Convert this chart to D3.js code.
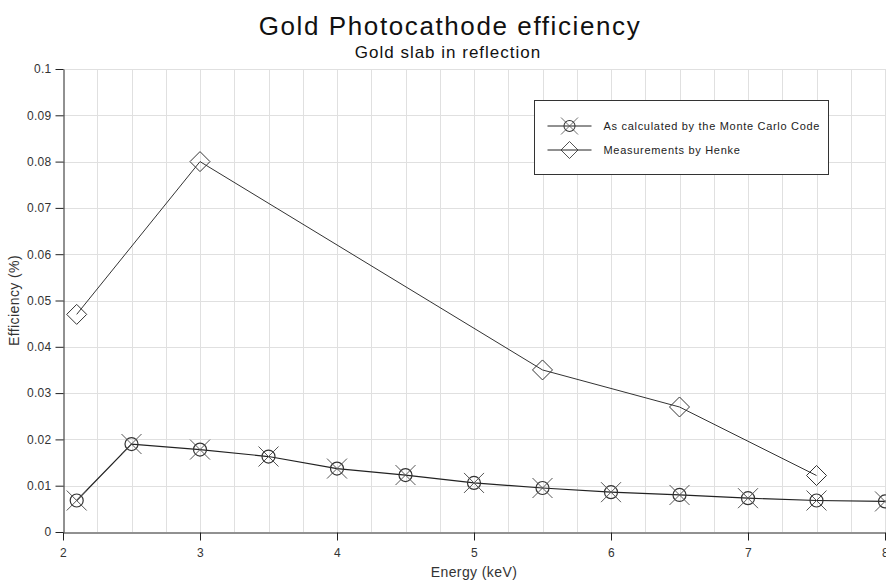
<!DOCTYPE html>
<html>
<head>
<meta charset="utf-8">
<script src="https://cdn.jsdelivr.net/npm/d3@7"></script>
<style>
  body { margin: 0; background: #fff; }
  svg text { font-family: "Liberation Sans", Arial, sans-serif; }
</style>
</head>
<body>
<svg id="chart"></svg>
<script>
// energies (keV) and efficiencies (%)
const mcEnergy = [2.1, 2.5, 3, 3.5, 4, 4.5, 5, 5.5, 6, 6.5, 7, 7.5, 8];
const mcEff = [0.0068, 0.019, 0.0178, 0.0163, 0.0137, 0.0123, 0.0106, 0.0095, 0.0086, 0.008, 0.0073, 0.0068, 0.0066];
const henkeEnergy = [2.1, 3, 5.5, 6.5, 7.5];
const henkeEff = [0.047, 0.08, 0.035, 0.027, 0.0122];
const xTicks = [2, 3, 4, 5, 6, 7, 8];
const yTicks = [0, 0.01, 0.02, 0.03, 0.04, 0.05, 0.06, 0.07, 0.08, 0.09, 0.1];
const seriesNames = ["As calculated by the Monte Carlo Code", "Measurements by Henke"];

const width = 886, height = 581;
const margin = { top: 69, right: 1, bottom: 49, left: 63 };

const svg = d3.select("#chart")
  .attr("width", width)
  .attr("height", height);

const x = d3.scaleLinear()
  .domain([2, 8])
  .range([margin.left, width - margin.right]);

const y = d3.scaleLinear()
  .domain([0, 0.1])
  .range([height - margin.bottom, margin.top]);

// grid
const grid = svg.append("g").attr("stroke", "#e0e0e0").attr("stroke-width", 1);
grid.selectAll("line.v")
  .data(d3.range(2.25, 8.01, 0.25))
  .join("line")
    .attr("class", "v")
    .attr("x1", d => Math.round(x(d)) + 0.5)
    .attr("x2", d => Math.round(x(d)) + 0.5)
    .attr("y1", y(0))
    .attr("y2", y(0.1));
grid.selectAll("line.h")
  .data(yTicks.slice(1))
  .join("line")
    .attr("class", "h")
    .attr("x1", x(2))
    .attr("x2", width)
    .attr("y1", d => Math.round(y(d)) + 0.5)
    .attr("y2", d => Math.round(y(d)) + 0.5);

// axes
const xAxis = svg.append("g")
  .attr("transform", `translate(0,${Math.round(y(0)) + 0.5})`)
  .call(d3.axisBottom(x).tickValues(xTicks).tickFormat(d3.format("d")).tickSize(8).tickSizeOuter(0));
const yAxis = svg.append("g")
  .attr("transform", `translate(${Math.round(x(2)) + 0.5},0)`)
  .call(d3.axisLeft(y).tickValues(yTicks).tickFormat(d => d === 0 ? "0" : d3.format(".2~f")(d)).tickSize(8).tickSizeOuter(0));

[xAxis, yAxis].forEach(g => {
  g.select(".domain").attr("stroke", "#222");
  g.selectAll(".tick line").attr("stroke", "#222");
  g.selectAll(".tick text")
    .attr("fill", "#333")
    .attr("font-size", 12)
    .attr("letter-spacing", 0.3)
    .attr("font-family", "Liberation Sans, Arial, sans-serif");
});
xAxis.selectAll(".tick text").attr("dy", "1.1em");
yAxis.selectAll(".tick text").attr("dx", "-1px");

// lines
const line = d3.line().x(d => x(d[0])).y(d => y(d[1]));
const mcData = mcEnergy.map((e, i) => [e, mcEff[i]]);
const henkeData = henkeEnergy.map((e, i) => [e, henkeEff[i]]);

svg.append("path")
  .datum(henkeData)
  .attr("d", line)
  .attr("fill", "none")
  .attr("stroke", "#333")
  .attr("stroke-width", 1);

svg.append("path")
  .datum(mcData)
  .attr("d", line)
  .attr("fill", "none")
  .attr("stroke", "#222")
  .attr("stroke-width", 1.2);

function circleX(g) {
  g.append("circle").attr("r", 6.5).attr("fill", "none").attr("stroke", "#333").attr("stroke-width", 1.2);
  g.append("path").attr("d", "M-10,-10L10,10M-10,10L10,-10").attr("stroke", "#555").attr("stroke-width", 1);
}
function diamond(g) {
  g.append("path").attr("d", "M0,-10L10,0L0,10L-10,0Z").attr("fill", "none").attr("stroke", "#333").attr("stroke-width", 1);
}

svg.append("g").selectAll("g")
  .data(mcData)
  .join("g")
    .attr("transform", d => `translate(${x(d[0])},${y(d[1])})`)
    .each(function () { circleX(d3.select(this)); });

svg.append("g").selectAll("g")
  .data(henkeData)
  .join("g")
    .attr("transform", d => `translate(${x(d[0])},${y(d[1])})`)
    .each(function () { diamond(d3.select(this)); });

// titles
svg.append("text")
  .attr("x", 450).attr("y", 35)
  .attr("text-anchor", "middle")
  .attr("font-size", 26)
  .attr("letter-spacing", 1.6)
  .attr("fill", "#111")
  .text("Gold Photocathode efficiency");
svg.append("text")
  .attr("x", 448).attr("y", 58)
  .attr("text-anchor", "middle")
  .attr("font-size", 17)
  .attr("letter-spacing", 1)
  .attr("fill", "#111")
  .text("Gold slab in reflection");

svg.append("text")
  .attr("x", x(5)).attr("y", 577)
  .attr("text-anchor", "middle")
  .attr("font-size", 14)
  .attr("letter-spacing", 0.4)
  .attr("fill", "#333")
  .text("Energy (keV)");
svg.append("text")
  .attr("transform", `translate(19,${y(0.05)}) rotate(-90)`)
  .attr("text-anchor", "middle")
  .attr("font-size", 14)
  .attr("letter-spacing", 0.4)
  .attr("fill", "#333")
  .text("Efficiency (%)");

// legend
const legend = svg.append("g").attr("transform", "translate(534.5,100.5)");
legend.append("rect")
  .attr("width", 294).attr("height", 74)
  .attr("fill", "#fff")
  .attr("stroke", "#333");
const markers = [circleX, diamond];
seriesNames.forEach((name, i) => {
  const row = legend.append("g").attr("transform", `translate(0,${25.5 + i * 24})`);
  row.append("line").attr("x1", 13).attr("x2", 57).attr("stroke", "#222");
  const m = row.append("g").attr("transform", "translate(35,0) scale(0.85)");
  markers[i](m);
  row.append("text")
    .attr("x", 69).attr("y", 4)
    .attr("font-size", 11)
    .attr("letter-spacing", 0.7)
    .attr("fill", "#222")
    .text(name);
});
</script>
</body>
</html>
